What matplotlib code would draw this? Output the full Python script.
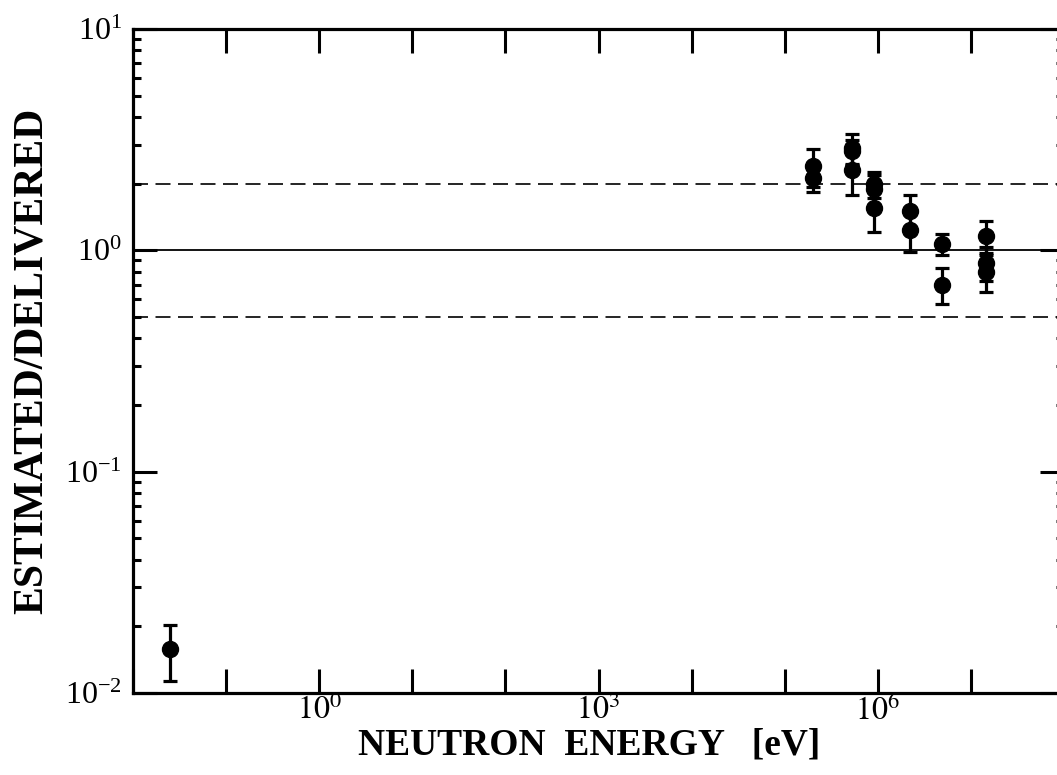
import matplotlib
matplotlib.use("Agg")
import matplotlib.pyplot as plt
import matplotlib.ticker as ticker
import numpy as np

plt.rcParams['font.family'] = ['Liberation Serif', 'DejaVu Serif']
plt.rcParams['mathtext.fontset'] = 'stix'

# neutron energy [eV], estimated/delivered ratio and its error
energy = [0.025,
          2.0e5, 2.0e5,
          5.3e5, 5.3e5, 5.3e5,
          9.1e5, 9.1e5, 9.1e5,
          2.2e6, 2.2e6,
          4.9e6, 4.9e6,
          1.45e7, 1.45e7, 1.45e7]
ratio = [0.0158,
         2.4, 2.13,
         2.9, 2.8, 2.3,
         2.0, 1.9, 1.55,
         1.5, 1.23,
         1.07, 0.70,
         1.16, 0.88, 0.80]
ratio_err = [0.0045,
             0.47, 0.29,
             0.47, 0.35, 0.53,
             0.27, 0.30, 0.34,
             0.27, 0.25,
             0.12, 0.13,
             0.19, 0.15, 0.15]

ref_levels = [0.5, 1.0, 2.0]
x_label_exps = [0, 3, 6]

fig = plt.figure(figsize=(10.57, 7.75), dpi=100)
ax = fig.add_axes([133 / 1057, 82 / 775, 931 / 1057, 664 / 775])

for lvl in ref_levels:
    if lvl == 1.0:
        ax.axhline(lvl, color='black', lw=1.3, zorder=1)
    else:
        ax.axhline(lvl, color='black', lw=1.2, dashes=(9, 4.5), zorder=1)

ax.errorbar(energy, ratio, yerr=ratio_err, fmt='o', color='black',
            markersize=11.5, elinewidth=2.3, capsize=5, capthick=2.3, zorder=3)

ax.set_xscale('log')
ax.set_yscale('log')
ax.set_xlim(1e-2, 1e8)
ax.set_ylim(1e-2, 1e1)

ax.xaxis.set_major_locator(ticker.LogLocator(base=10, numticks=20))
ax.xaxis.set_minor_locator(ticker.NullLocator())


def xfmt(v, pos):
    e = int(round(np.log10(v)))
    if e in x_label_exps:
        return r'$10^{%d}$' % e
    return ''


ax.xaxis.set_major_formatter(ticker.FuncFormatter(xfmt))
ax.yaxis.set_major_formatter(ticker.LogFormatterMathtext())
ax.yaxis.set_minor_locator(ticker.LogLocator(base=10, subs=np.arange(2, 10), numticks=20))
ax.yaxis.set_minor_formatter(ticker.NullFormatter())

ax.tick_params(axis='x', which='major', direction='in', top=True, bottom=True,
               length=17, width=2.2, labelsize=23, pad=2)
ax.tick_params(axis='y', which='major', direction='in', left=True, right=True,
               length=17, width=2.2, labelsize=23, pad=8)
ax.tick_params(axis='y', which='minor', direction='in', left=True, right=True,
               length=6, width=2.2)

for sp in ax.spines.values():
    sp.set_linewidth(2.3)

ax.set_xlabel('NEUTRON  ENERGY   [eV]', fontsize=27, fontweight='bold')
ax.xaxis.set_label_coords(0.49, -0.052)
ax.set_ylabel('ESTIMATED/DELIVERED', fontsize=30, fontweight='bold')
ax.yaxis.set_label_coords(-0.088, 0.5)

fig.savefig('out.png', dpi=100)
